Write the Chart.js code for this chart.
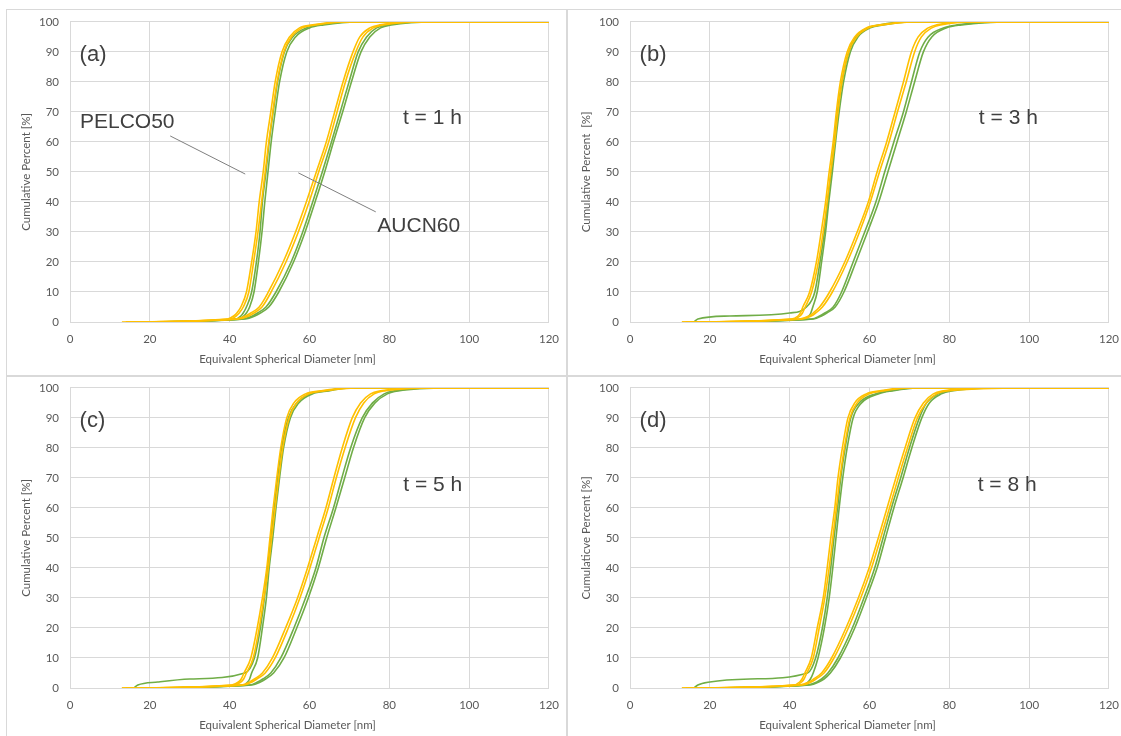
<!DOCTYPE html>
<html>
<head>
<meta charset="utf-8">
<script src="https://cdn.jsdelivr.net/npm/chart.js@4.4.1/dist/chart.umd.min.js"></script>
<style>
  html, body { margin: 0; padding: 0; background: #fff; }
  #page { position: relative; width: 1121px; height: 736px; overflow: hidden; }
  .panel { position: absolute; width: 560px; height: 366px; border: 1px solid #d9d9d9; }
  .panel canvas { position: absolute; left: 0; top: -6px; }
</style>
</head>
<body>
<div id="page">
  <div class="panel" style="left:6px;top:9px"><canvas id="cA" width="562" height="372"></canvas></div>
  <div class="panel" style="left:566px;top:9px"><canvas id="cB" width="562" height="372"></canvas></div>
  <div class="panel" style="left:6px;top:375px"><canvas id="cC" width="562" height="372"></canvas></div>
  <div class="panel" style="left:566px;top:375px"><canvas id="cD" width="562" height="372"></canvas></div>
</div>
<script>
// --- data: cumulative percent levels, diameter [nm] of each curve at those levels ---
const levels = [0, 1, 2, 3, 5, 10, 20, 30, 40, 50, 60, 70, 80, 90, 95, 98, 99, 100, 100];

// (a) t = 1 h
const a_po1 = [13, 39.5, 41.0, 41.8, 42.8, 44.2, 45.5, 46.6, 47.4, 48.4, 49.2, 50.3, 51.4, 53.1, 55.0, 57.5, 60.8, 67.5, 120];
const a_po2 = [14, 40.3, 41.6, 42.4, 43.4, 44.8, 46.0, 47.1, 48.0, 48.9, 49.8, 50.8, 51.9, 53.6, 55.5, 58.2, 61.5, 69.0, 120];
const a_pg1 = [17, 41.5, 42.8, 43.4, 44.2, 45.5, 46.7, 47.6, 48.2, 49.1, 49.9, 50.9, 52.0, 53.7, 55.8, 59.2, 62.5, 70.0, 120];
const a_pg2 = [18, 42.2, 43.5, 44.2, 45.0, 46.1, 47.2, 48.1, 48.8, 49.6, 50.4, 51.4, 52.5, 54.3, 56.5, 60.0, 63.5, 72.0, 120];
const a_ao1 = [14, 41.5, 44.0, 45.3, 47.4, 49.7, 53.4, 56.5, 59.2, 61.7, 64.2, 66.3, 68.4, 70.9, 72.6, 75.1, 77.6, 86.0, 120];
const a_ao2 = [15, 42.3, 44.8, 46.1, 48.1, 50.4, 54.1, 57.2, 59.9, 62.3, 64.8, 66.9, 69.0, 71.6, 73.4, 76.0, 78.5, 88.0, 120];
const a_ag1 = [17, 43.2, 45.7, 47.0, 49.1, 51.6, 55.4, 58.3, 60.8, 63.2, 65.5, 67.7, 69.9, 72.2, 74.3, 76.8, 79.3, 88.0, 120];
const a_ag2 = [18, 43.8, 46.3, 47.7, 49.8, 52.3, 56.0, 58.9, 61.4, 63.8, 66.0, 68.3, 70.5, 72.9, 75.1, 77.8, 80.5, 91.0, 120];

// (b) t = 3 h
const b_po1 = [13, 40.4, 42.1, 42.7, 43.3, 45.0, 46.7, 47.9, 49.0, 49.9, 50.9, 51.7, 52.7, 54.4, 56.3, 59.2, 62.6, 70.0, 120];
const b_po2 = [14, 41.0, 42.6, 43.2, 43.9, 45.5, 47.2, 48.4, 49.4, 50.3, 51.3, 52.1, 53.1, 54.8, 56.8, 59.8, 63.2, 71.0, 120];
const b_pg1 = [16, 17.0, 25.0, 40.0, 44.2, 46.3, 47.6, 48.7, 49.5, 50.4, 51.2, 52.0, 53.1, 54.8, 56.6, 59.6, 62.6, 68.5, 120];
const b_pg2 = [17, 43.8, 44.8, 45.3, 45.8, 46.9, 48.0, 49.0, 49.8, 50.7, 51.5, 52.4, 53.5, 55.2, 57.1, 60.2, 63.4, 70.0, 120];
const b_ao1 = [13, 42.5, 44.8, 45.9, 47.5, 50.0, 53.8, 56.9, 59.7, 61.9, 64.3, 66.4, 68.5, 70.5, 72.2, 74.7, 76.8, 84.0, 120];
const b_ao2 = [14, 43.2, 45.4, 46.5, 48.2, 50.7, 54.4, 57.5, 60.2, 62.5, 64.9, 67.0, 69.2, 71.3, 73.0, 75.6, 77.8, 86.0, 120];
const b_ag1 = [17, 45.5, 47.5, 48.8, 50.9, 53.0, 55.9, 58.8, 61.6, 63.8, 66.1, 68.5, 70.5, 72.6, 74.7, 78.5, 82.0, 92.0, 120];
const b_ag2 = [18, 46.0, 48.0, 49.3, 51.4, 53.6, 56.6, 59.5, 62.3, 64.6, 66.9, 69.2, 71.3, 73.5, 75.6, 79.2, 83.0, 95.0, 120];

// (c) t = 5 h
const c_po1 = [13, 40.5, 42.2, 42.9, 43.6, 45.3, 46.9, 48.2, 49.3, 50.1, 50.9, 51.8, 52.8, 54.3, 56.1, 59.0, 62.8, 70.3, 120];
const c_po2 = [14, 41.1, 42.8, 43.5, 44.2, 45.9, 47.4, 48.6, 49.7, 50.5, 51.4, 52.3, 53.3, 54.9, 56.8, 59.8, 63.6, 72.0, 120];
const c_pg1 = [16, 17.0, 22.0, 30.0, 43.8, 46.2, 47.7, 48.7, 49.5, 50.3, 51.2, 52.0, 53.0, 54.7, 56.8, 60.0, 64.2, 68.7, 120];
const c_pg2 = [17, 43.5, 44.5, 45.0, 45.5, 47.0, 48.2, 49.2, 49.9, 50.8, 51.6, 52.5, 53.5, 55.2, 57.3, 60.7, 64.8, 70.0, 120];
const c_ao1 = [13, 43.0, 45.0, 46.2, 48.2, 50.7, 54.0, 57.0, 59.5, 61.8, 64.1, 66.1, 68.2, 70.7, 72.8, 75.3, 77.8, 88.0, 120];
const c_ao2 = [14, 43.6, 45.6, 46.8, 48.9, 51.4, 54.7, 57.6, 60.1, 62.4, 64.7, 66.7, 68.9, 71.5, 73.6, 76.2, 78.8, 92.0, 120];
const c_ag1 = [16, 45.0, 47.0, 48.3, 50.3, 52.8, 56.1, 59.0, 61.6, 63.6, 66.0, 68.1, 70.3, 73.2, 75.8, 78.7, 81.2, 90.0, 120];
const c_ag2 = [17, 45.6, 47.7, 49.0, 51.0, 53.6, 56.8, 59.7, 62.2, 64.3, 66.6, 68.8, 71.0, 73.8, 76.4, 79.5, 82.2, 95.0, 120];

// (d) t = 8 h
const d_po1 = [13, 41.0, 42.5, 43.1, 43.8, 45.4, 46.9, 48.4, 49.4, 50.3, 51.3, 52.1, 53.2, 54.6, 56.3, 59.2, 62.6, 68.5, 120];
const d_po2 = [14, 41.6, 43.0, 43.6, 44.3, 45.9, 47.4, 48.8, 49.9, 50.8, 51.7, 52.6, 53.7, 55.1, 56.9, 59.9, 63.4, 70.0, 120];
const d_pg1 = [16, 17.0, 20.0, 30.0, 44.5, 46.5, 48.2, 49.4, 50.3, 51.1, 52.0, 52.8, 53.9, 55.3, 57.4, 61.5, 64.8, 71.0, 120];
const d_pg2 = [17, 43.5, 44.6, 45.2, 45.9, 47.1, 48.7, 49.9, 50.8, 51.6, 52.4, 53.3, 54.4, 55.9, 58.0, 62.2, 65.6, 72.0, 120];
const d_ao1 = [13, 42.5, 44.8, 46.0, 48.0, 50.5, 54.1, 57.2, 59.9, 62.2, 64.4, 66.6, 68.9, 71.4, 73.5, 76.0, 78.5, 88.0, 120];
const d_ao2 = [14, 43.2, 45.4, 46.6, 48.6, 51.1, 54.7, 57.8, 60.5, 62.8, 65.0, 67.2, 69.5, 72.0, 74.2, 76.8, 79.4, 100.0, 120];
const d_ag1 = [16, 44.5, 46.8, 48.0, 49.6, 52.1, 55.7, 58.6, 61.3, 63.4, 65.5, 67.8, 70.0, 72.5, 74.3, 77.2, 79.7, 88.0, 120];
const d_ag2 = [17, 45.0, 47.3, 48.6, 50.2, 52.7, 56.3, 59.2, 61.9, 64.0, 66.1, 68.4, 70.6, 73.1, 75.0, 78.0, 80.6, 92.0, 120];

const ORANGE = '#FFC000';
const GREEN  = '#70AD47';
const xTitle = 'Equivalent Spherical Diameter [nm]';

// --- plugin for panel letters, time labels, leader lines and x title ---
const panelText = {
  id: 'panelText',
  afterDraw(chart, args, opts) {
    const {ctx, chartArea, scales: {x, y}} = chart;
    ctx.save();
    ctx.textBaseline = 'middle';
    ctx.textAlign = 'left';
    ctx.fillStyle = '#404040';
    ctx.font = '22px "Liberation Sans", Arial, sans-serif';
    ctx.fillText(opts.letter, x.getPixelForValue(2.4), y.getPixelForValue(89));
    ctx.font = '21px "Liberation Sans", Arial, sans-serif';
    ctx.fillText(opts.time, x.getPixelForValue(opts.timeAt[0]), y.getPixelForValue(opts.timeAt[1]));
    (opts.notes || []).forEach(n => {
      ctx.fillText(n.text, x.getPixelForValue(n.at[0]), y.getPixelForValue(n.at[1]));
      ctx.strokeStyle = '#7f7f7f';
      ctx.lineWidth = 1;
      ctx.beginPath();
      ctx.moveTo(x.getPixelForValue(n.from[0]), y.getPixelForValue(n.from[1]));
      ctx.lineTo(x.getPixelForValue(n.to[0]), y.getPixelForValue(n.to[1]));
      ctx.stroke();
    });
    // x axis title
    ctx.textAlign = 'center';
    ctx.fillStyle = '#595959';
    ctx.font = '11.5px Lato, "Open Sans", sans-serif';
    ctx.fillText(xTitle, (chartArea.left + chartArea.right) / 2 - 22, chartArea.bottom + 37);
    ctx.restore();
  }
};

function curve(xs, color) {
  return {
    data: xs.map((v, i) => ({x: v, y: levels[i]})),
    borderColor: color,
    borderWidth: 1.6,
    pointRadius: 0,
    showLine: true,
    fill: false,
    cubicInterpolationMode: 'monotone'
  };
}

function makePanel(id, sets, yLabel, text) {
  const datasets = [
    ...sets.orange.map(s => curve(s, ORANGE)),
    ...sets.green.map(s => curve(s, GREEN))
  ];
  new Chart(document.getElementById(id), {
    type: 'scatter',
    data: { datasets },
    plugins: [panelText],
    options: {
      responsive: false,
      animation: false,
      devicePixelRatio: 1,
      layout: { padding: { top: 6, right: 17, bottom: 0, left: 0 } },
      plugins: {
        legend: { display: false },
        tooltip: { enabled: false },
        panelText: text
      },
      scales: {
        x: {
          type: 'linear', min: 0, max: 120,
          afterFit: s => { s.height = 54; },
          ticks: { stepSize: 20, padding: 10, color: '#595959', font: { family: 'Lato, "Open Sans", sans-serif', size: 11.5 } },
          grid: { color: '#d9d9d9', drawTicks: false },
          border: { display: false }
        },
        y: {
          min: 0, max: 100,
          afterFit: s => { s.width = 63; },
          ticks: { stepSize: 10, padding: 11, color: '#595959', font: { family: 'Lato, "Open Sans", sans-serif', size: 11.5 } },
          grid: { color: '#d9d9d9', drawTicks: false },
          border: { display: false },
          title: { display: true, text: yLabel, color: '#595959', padding: { top: 12, bottom: 0 },
                   font: { family: 'Lato, "Open Sans", sans-serif', size: 11.5 } }
        }
      }
    }
  });
}

makePanel('cA',
  { orange: [a_po1, a_po2, a_ao1, a_ao2], green: [a_pg1, a_pg2, a_ag1, a_ag2] },
  'Cumulative Percent [%]',
  { letter: '(a)', time: 't = 1 h', timeAt: [83.4, 68],
    notes: [
      { text: 'PELCO50', at: [2.5, 66.7], from: [25.1, 62], to: [43.9, 49.3] },
      { text: 'AUCN60', at: [77, 32], from: [57.2, 49.7], to: [76.6, 36.7] }
    ] });

makePanel('cB',
  { orange: [b_po1, b_po2, b_ao1, b_ao2], green: [b_pg1, b_pg2, b_ag1, b_ag2] },
  'Cumulative Percent  [%]',
  { letter: '(b)', time: 't = 3 h', timeAt: [87.4, 68] });

makePanel('cC',
  { orange: [c_po1, c_po2, c_ao1, c_ao2], green: [c_pg1, c_pg2, c_ag1, c_ag2] },
  'Cumulative Percent [%]',
  { letter: '(c)', time: 't = 5 h', timeAt: [83.5, 67.7] });

makePanel('cD',
  { orange: [d_po1, d_po2, d_ao1, d_ao2], green: [d_pg1, d_pg2, d_ag1, d_ag2] },
  'Cumulaticve Percent [%]',
  { letter: '(d)', time: 't = 8 h', timeAt: [87.1, 67.7] });
</script>
</body>
</html>
